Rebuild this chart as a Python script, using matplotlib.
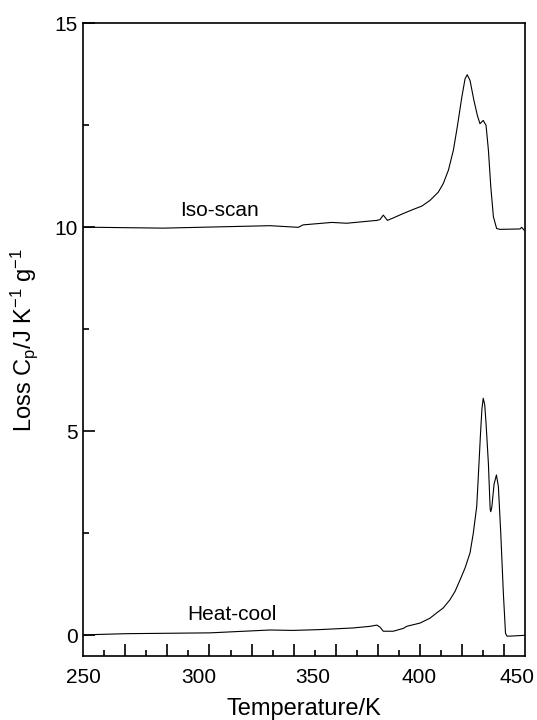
import numpy as np
import matplotlib
matplotlib.use("Agg")
import matplotlib.pyplot as plt
from matplotlib.transforms import ScaledTranslation

plt.rcParams['font.family'] = ['Liberation Sans', 'DejaVu Sans']
plt.rcParams['mathtext.fontset'] = 'custom'
plt.rcParams['mathtext.rm'] = 'Liberation Sans'
plt.rcParams['mathtext.it'] = 'Liberation Sans:italic'

# ---- data ----
iso_T = [246.7, 252.9, 283.6, 333.0, 346.1, 348.3, 361.6, 368.5, 382.4, 383.9,
         385.4, 387.3, 390.0, 394.7, 399.3, 403.2, 407.0, 410.8, 413.1, 415.5,
         417.8, 419.6, 421.7, 423.2, 424.2, 425.5, 427.3, 428.9, 430.1, 431.6,
         432.9, 434.0, 435.1, 436.3, 437.8, 439.4, 448.6, 449.4, 450.5]
iso_cp = [10.00, 10.00, 9.98, 10.04, 10.00, 10.06, 10.12, 10.10, 10.17, 10.19,
          10.30, 10.17, 10.23, 10.34, 10.44, 10.52, 10.66, 10.86, 11.07, 11.40,
          11.89, 12.46, 13.19, 13.64, 13.74, 13.60, 13.11, 12.74, 12.54, 12.62,
          12.50, 11.89, 10.99, 10.26, 9.97, 9.95, 9.96, 10.00, 9.93]

hc_T = [246.7, 252.9, 266.8, 305.3, 333.0, 343.7, 356.1, 371.4, 379.3, 382.4,
        383.9, 385.4, 390.0, 394.7, 396.2, 402.4, 407.0, 410.1, 413.1, 416.2,
        418.6, 420.9, 423.2, 425.5, 427.0, 428.6, 429.8, 430.4, 431.0, 431.6,
        432.3, 432.9, 434.0, 434.8, 435.1, 435.6, 436.6, 437.7, 438.6, 439.7,
        440.9, 441.9, 442.6, 444.0, 450.9]
hc_cp = [0.00, 0.02, 0.04, 0.06, 0.13, 0.12, 0.14, 0.18, 0.22, 0.25,
         0.20, 0.10, 0.10, 0.17, 0.22, 0.30, 0.42, 0.55, 0.67, 0.87,
         1.08, 1.36, 1.65, 2.02, 2.50, 3.16, 4.38, 5.00, 5.55, 5.81,
         5.65, 5.20, 4.20, 3.10, 3.03, 3.15, 3.70, 3.93, 3.65, 2.51,
         1.04, 0.05, -0.02, -0.02, 0.00]

x_labels = [250, 300, 350, 400, 450]
y_major = [0, 5, 10, 15]
y_minor = [2.5, 7.5, 12.5]
curve_names = ["Iso-scan", "Heat-cool"]
name_pos = [(309.7, 10.41), (315.5, 0.51)]

# ---- figure ----
fig = plt.figure(figsize=(5.37, 7.2), dpi=100)
ax = fig.add_axes([0.1551, 0.0893, 0.8225, 0.8783])
xlim = (246.7, 450.9)
ax.set_xlim(*xlim)
ax.set_ylim(-0.5, 15)

ax.plot(iso_T, iso_cp, color='black', lw=0.8)
ax.plot(hc_T, hc_cp, color='black', lw=0.8)

for name, (tx, ty) in zip(curve_names, name_pos):
    ax.text(tx, ty, name, ha='center', va='center', fontsize=15)

for s in ax.spines.values():
    s.set_linewidth(1.2)

# tick marks: axis split into 21 equal steps
fr = np.arange(1, 21) / 21.0
tick_pos = xlim[0] + fr * (xlim[1] - xlim[0])
long_ticks = tick_pos[1::2]
short_ticks = tick_pos[0::2]

ax.set_xticks(x_labels)
ax.set_xticklabels([str(v) for v in x_labels])
ax.set_xticks(short_ticks, minor=True)
ax.tick_params(axis='x', which='major', length=0, labelsize=15, pad=9)
ax.tick_params(axis='x', which='minor', direction='in', length=4.2, width=1.2)

# nudge the labels horizontally (in pixels) to sit as in the reference
label_shift_px = [-7, 0, 6, 4, -6]
for lab, dx in zip(ax.get_xticklabels(), label_shift_px):
    lab.set_transform(lab.get_transform() + ScaledTranslation(dx / 100.0, 0, fig.dpi_scale_trans))

sec = ax.secondary_xaxis('bottom')
sec.set_xticks(long_ticks)
sec.set_xticklabels([])
sec.tick_params(axis='x', direction='in', length=8.5, width=1.2)
sec.spines['bottom'].set_visible(False)

ax.set_yticks(y_major)
ax.set_yticks(y_minor, minor=True)
ax.tick_params(axis='y', which='major', direction='in', length=8.5, width=1.2,
               labelsize=15, pad=4)
ax.tick_params(axis='y', which='minor', direction='in', length=4.2, width=1.2)

ax.set_xlabel('Temperature/K', fontsize=17, labelpad=8)
ax.set_ylabel(r'Loss C$_{\mathrm{p}}$/J K$^{-1}$ g$^{-1}$', fontsize=17, labelpad=10)

fig.savefig('out.png', dpi=100)
